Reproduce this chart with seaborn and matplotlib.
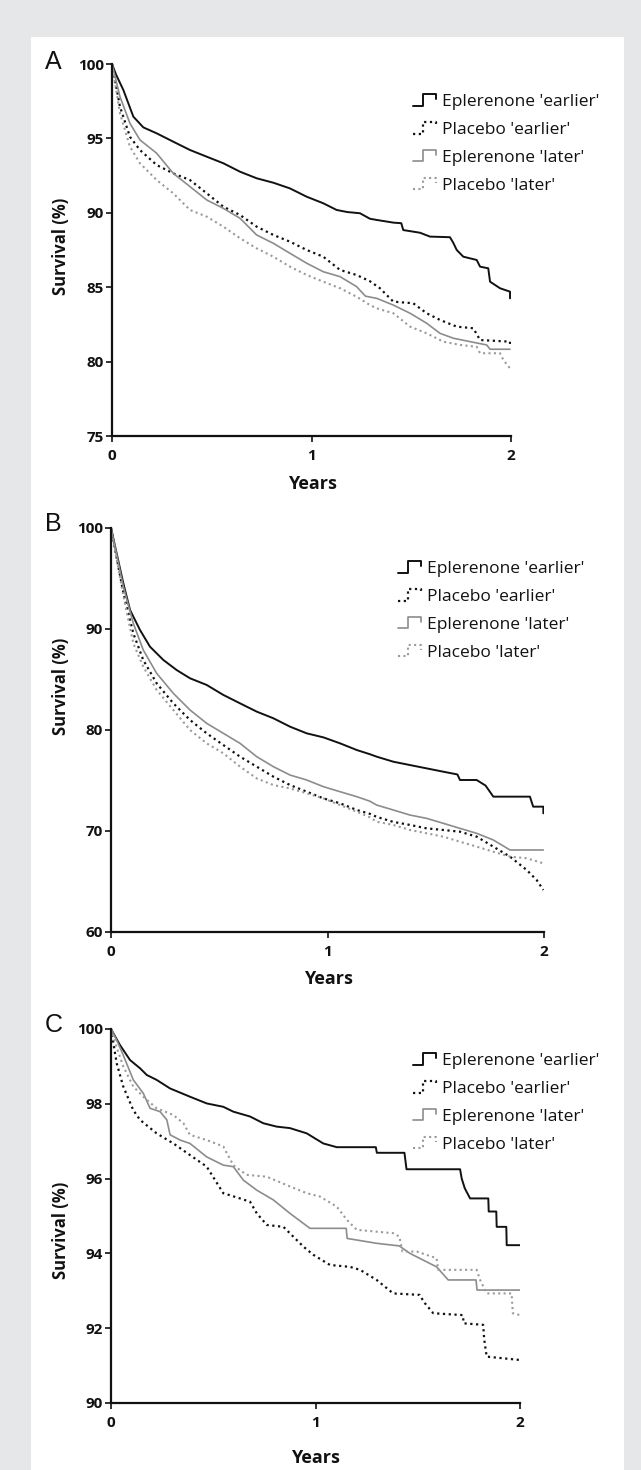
"""Kaplan-Meier style survival curves, three panels (A, B, C)."""
import matplotlib.pyplot as plt
import numpy as np
import seaborn as sns
from matplotlib.legend_handler import HandlerBase
from matplotlib.lines import Line2D
from matplotlib.patches import Rectangle

sns.set_theme(style="white")
plt.rcParams["font.family"] = ["Open Sans", "DejaVu Sans"]

W, H = 641, 1470

GROUPS = ["Eplerenone 'earlier'", "Placebo 'earlier'", "Eplerenone 'later'", "Placebo 'later'"]
X_TICKS = [0, 1, 2]

# ---- panel A ----
a_ep_early_t = [0, 0.02, 0.057, 0.107, 0.157, 0.224, 0.307, 0.391, 0.475, 0.558, 0.642, 0.725, 0.809, 0.892,
                0.976, 1.059, 1.126, 1.18, 1.243, 1.293, 1.327, 1.41, 1.45, 1.46, 1.544, 1.594, 1.694, 1.71,
                1.728, 1.761, 1.828, 1.845, 1.886, 1.895, 1.945, 1.995, 1.995]
a_ep_early_s = [100, 99.3, 98.25, 96.46, 95.74, 95.34, 94.78, 94.22, 93.77, 93.33, 92.76, 92.32, 92.02, 91.64,
                91.08, 90.64, 90.19, 90.05, 89.97, 89.6, 89.52, 89.34, 89.3, 88.84, 88.66, 88.4, 88.36, 88.0,
                87.5, 87.05, 86.83, 86.38, 86.27, 85.37, 84.93, 84.7, 84.25]
a_pl_early_t = [0, 0.04, 0.09, 0.14, 0.224, 0.307, 0.391, 0.475, 0.558, 0.642, 0.725, 0.809, 0.892, 0.976,
                1.059, 1.143, 1.226, 1.293, 1.343, 1.41, 1.51, 1.577, 1.644, 1.728, 1.811, 1.845, 1.995, 1.995]
a_pl_early_s = [100, 97.13, 95.11, 94.22, 93.21, 92.65, 92.2, 91.31, 90.41, 89.85, 89.07, 88.51, 88.06, 87.5,
                87.05, 86.16, 85.82, 85.4, 84.93, 84.03, 83.92, 83.25, 82.8, 82.35, 82.24, 81.45, 81.34, 81.1]
a_ep_later_t = [0, 0.04, 0.09, 0.14, 0.224, 0.307, 0.391, 0.475, 0.558, 0.642, 0.725, 0.809, 0.892, 0.976,
                1.059, 1.143, 1.226, 1.27, 1.327, 1.41, 1.494, 1.577, 1.644, 1.711, 1.795, 1.878, 1.895, 1.995]
a_ep_later_s = [100, 97.8, 96.01, 94.9, 94.0, 92.65, 91.76, 90.86, 90.3, 89.63, 88.51, 87.95, 87.28, 86.61,
                86.04, 85.71, 85.04, 84.4, 84.25, 83.8, 83.25, 82.58, 81.9, 81.57, 81.34, 81.12, 80.83, 80.83]
a_pl_later_t = [0, 0.04, 0.09, 0.14, 0.224, 0.307, 0.391, 0.475, 0.558, 0.642, 0.725, 0.809, 0.892, 0.976,
                1.059, 1.143, 1.226, 1.293, 1.327, 1.41, 1.494, 1.577, 1.661, 1.745, 1.828, 1.845, 1.945,
                1.962, 1.995]
a_pl_later_s = [100, 96.69, 94.44, 93.33, 92.2, 91.31, 90.19, 89.74, 89.07, 88.29, 87.61, 87.05, 86.38, 85.82,
                85.37, 84.93, 84.36, 83.8, 83.58, 83.25, 82.35, 81.9, 81.34, 81.12, 81.0, 80.56, 80.56,
                80.1, 79.55]

# ---- panel B ----
b_ep_early_t = [0, 0.057, 0.088, 0.134, 0.18, 0.242, 0.303, 0.365, 0.442, 0.519, 0.596, 0.673, 0.75, 0.827,
                0.904, 0.981, 1.058, 1.135, 1.196, 1.227, 1.304, 1.381, 1.458, 1.535, 1.6, 1.612, 1.689, 1.73,
                1.766, 1.935, 1.95, 1.997, 1.997]
b_ep_early_s = [100, 94.52, 91.88, 89.9, 88.25, 86.93, 85.94, 85.12, 84.46, 83.47, 82.64, 81.82, 81.16, 80.33,
                79.67, 79.27, 78.68, 78.02, 77.6, 77.36, 76.86, 76.53, 76.2, 75.87, 75.6, 75.05, 75.05, 74.5,
                73.4, 73.4, 72.41, 72.41, 71.75]
b_ep_later_t = [0, 0.057, 0.103, 0.149, 0.211, 0.288, 0.365, 0.442, 0.519, 0.596, 0.673, 0.75, 0.827, 0.904,
                0.981, 1.058, 1.135, 1.196, 1.227, 1.304, 1.381, 1.458, 1.535, 1.612, 1.689, 1.766, 1.843, 1.997]
b_ep_later_s = [100, 94.2, 90.56, 87.92, 85.61, 83.63, 81.98, 80.66, 79.67, 78.68, 77.36, 76.37, 75.54, 75.05,
                74.39, 73.89, 73.4, 72.95, 72.57, 72.08, 71.58, 71.25, 70.76, 70.26, 69.77, 69.11, 68.12, 68.12]
b_pl_early_t = [0, 0.057, 0.103, 0.149, 0.211, 0.288, 0.365, 0.442, 0.519, 0.596, 0.673, 0.75, 0.827, 0.904,
                0.981, 1.058, 1.135, 1.196, 1.227, 1.304, 1.381, 1.458, 1.535, 1.612, 1.689, 1.766, 1.843, 1.92,
                1.966, 1.997]
b_pl_early_s = [100, 93.6, 89.57, 86.93, 84.62, 82.64, 80.99, 79.67, 78.51, 77.36, 76.37, 75.38, 74.55, 73.89,
                73.23, 72.74, 72.08, 71.7, 71.4, 70.9, 70.6, 70.26, 70.1, 69.93, 69.44, 68.45, 67.46, 66.14,
                65.15, 64.16]
b_pl_later_t = [0, 0.057, 0.103, 0.149, 0.211, 0.288, 0.365, 0.442, 0.519, 0.596, 0.673, 0.75, 0.827, 0.904,
                0.981, 1.058, 1.135, 1.196, 1.227, 1.304, 1.381, 1.458, 1.535, 1.612, 1.689, 1.766, 1.843, 1.92,
                1.997]
b_pl_later_s = [100, 93.3, 88.58, 86.27, 83.96, 81.98, 80.0, 78.68, 77.69, 76.37, 75.21, 74.55, 74.22, 73.73,
                73.23, 72.57, 71.91, 71.35, 70.92, 70.6, 70.1, 69.77, 69.44, 68.94, 68.45, 67.95, 67.46, 67.3,
                66.8]

# ---- panel C ----
c_ep_early_t = [0, 0.044, 0.093, 0.142, 0.175, 0.223, 0.289, 0.386, 0.468, 0.549, 0.598, 0.68, 0.745, 0.81,
                0.875, 0.957, 1.038, 1.104, 1.295, 1.3, 1.435, 1.445, 1.707, 1.715, 1.73, 1.756, 1.845, 1.847,
                1.884, 1.886, 1.933, 1.935, 2.0]
c_ep_early_s = [100, 99.57, 99.17, 98.95, 98.77, 98.64, 98.41, 98.19, 98.01, 97.92, 97.79, 97.66, 97.48, 97.39,
                97.35, 97.21, 96.94, 96.84, 96.84, 96.69, 96.69, 96.25, 96.25, 96.0, 95.74, 95.47, 95.47, 95.12,
                95.12, 94.71, 94.71, 94.22, 94.22]
c_pl_early_t = [0, 0.028, 0.06, 0.109, 0.142, 0.223, 0.305, 0.386, 0.468, 0.549, 0.631, 0.68, 0.713, 0.762,
                0.843, 0.941, 0.99, 1.071, 1.169, 1.218, 1.299, 1.38, 1.51, 1.53, 1.576, 1.72, 1.725, 1.82,
                1.825, 1.837, 2.0]
c_pl_early_s = [100, 99.08, 98.46, 97.83, 97.57, 97.21, 96.94, 96.63, 96.32, 95.61, 95.47, 95.38, 95.07, 94.76,
                94.71, 94.18, 93.96, 93.69, 93.64, 93.56, 93.29, 92.93, 92.89, 92.7, 92.4, 92.35, 92.13, 92.09,
                91.7, 91.24, 91.15]
c_ep_later_t = [0, 0.028, 0.06, 0.109, 0.158, 0.191, 0.24, 0.273, 0.289, 0.338, 0.386, 0.468, 0.549, 0.598,
                0.647, 0.713, 0.794, 0.875, 0.973, 1.15, 1.155, 1.299, 1.41, 1.462, 1.527, 1.592, 1.649, 1.785,
                1.79, 2.0]
c_ep_later_s = [100, 99.7, 99.3, 98.64, 98.28, 97.88, 97.79, 97.57, 97.17, 97.03, 96.94, 96.58, 96.36, 96.32,
                95.96, 95.69, 95.43, 95.07, 94.67, 94.67, 94.4, 94.27, 94.2, 94.0, 93.82, 93.64, 93.29, 93.29,
                93.02, 93.02]
c_pl_later_t = [0, 0.028, 0.06, 0.109, 0.158, 0.223, 0.305, 0.354, 0.386, 0.468, 0.549, 0.598, 0.663, 0.762,
                0.875, 0.957, 1.022, 1.104, 1.153, 1.202, 1.38, 1.41, 1.425, 1.495, 1.592, 1.6, 1.788, 1.805,
                1.837, 1.959, 1.965, 2.0]
c_pl_later_s = [100, 99.5, 99.0, 98.46, 98.19, 97.88, 97.7, 97.48, 97.17, 97.03, 96.86, 96.36, 96.1, 96.05,
                95.79, 95.61, 95.52, 95.25, 94.9, 94.63, 94.54, 94.45, 94.05, 94.05, 93.87, 93.56, 93.56, 93.29,
                92.93, 92.93, 92.4, 92.35]

# line styles, in the order of GROUPS
STYLES = [
    dict(color="#111111", linestyle="-", linewidth=1.4),
    dict(color="#111111", linestyle=(0, (1, 1.6)), linewidth=1.6),
    dict(color="#8c8c8c", linestyle="-", linewidth=1.2),
    dict(color="#9a9a9a", linestyle=(0, (1, 1.6)), linewidth=1.5),
]

# layout in pixels: axes box, y-limits, y-ticks, ylabel anchor, xlabel anchor, legend top-left
PANELS = [
    dict(letter="A", box=(112, 64, 511, 436), ylim=(75, 100), yticks=[75, 80, 85, 90, 95, 100],
         ylab=(70, 246), xlab=(312, 475), leg=(413, 94), letter_y=62,
         curves=[(a_ep_early_t, a_ep_early_s), (a_pl_early_t, a_pl_early_s),
                 (a_ep_later_t, a_ep_later_s), (a_pl_later_t, a_pl_later_s)]),
    dict(letter="B", box=(111, 528, 544, 932), ylim=(60, 100), yticks=[60, 70, 80, 90, 100],
         ylab=(70, 686), xlab=(328, 970), leg=(398, 561), letter_y=524,
         curves=[(b_ep_early_t, b_ep_early_s), (b_pl_early_t, b_pl_early_s),
                 (b_ep_later_t, b_ep_later_s), (b_pl_later_t, b_pl_later_s)]),
    dict(letter="C", box=(111, 1029, 520, 1403), ylim=(90, 100), yticks=[90, 92, 94, 96, 98, 100],
         ylab=(70, 1230), xlab=(315, 1449), leg=(413, 1053), letter_y=1025,
         curves=[(c_ep_early_t, c_ep_early_s), (c_pl_early_t, c_pl_early_s),
                 (c_ep_later_t, c_ep_later_s), (c_pl_later_t, c_pl_later_s)]),
]


def fx(px):
    return px / W


def fy(py):
    return 1 - py / H


class StepHandler(HandlerBase):
    """Legend key drawn as a small survival step."""

    def create_artists(self, legend, orig_handle, xdescent, ydescent, width, height, fontsize, trans):
        xs = np.array([0.0, 0.4, 0.4, 0.95, 0.95]) * width - xdescent
        ys = np.array([0.05, 0.05, 1.0, 1.0, 0.6]) * height - ydescent
        line = Line2D(xs, ys)
        line.update_from(orig_handle)
        line.set_transform(trans)
        return [line]


fig = plt.figure(figsize=(W / 100, H / 100), dpi=100, facecolor="#e6e7e9")
fig.patches.append(Rectangle((fx(31), 0), fx(624) - fx(31), fy(37), transform=fig.transFigure,
                             facecolor="white", edgecolor="none", zorder=-5))

for p in PANELS:
    x0, y0, x1, y1 = p["box"]
    ax = fig.add_axes([fx(x0), fy(y1), fx(x1) - fx(x0), fy(y0) - fy(y1)])
    ax.set_facecolor("none")
    handles = []
    for (t, s), st in zip(p["curves"], STYLES):
        sns.lineplot(x=t, y=s, ax=ax, estimator=None, sort=False, errorbar=None, legend=False, **st)
        handles.append(Line2D([], [], **st))

    ax.set_xlim(0, 2)
    ax.set_ylim(*p["ylim"])
    ax.set_xticks(X_TICKS)
    ax.set_yticks(p["yticks"])
    ax.tick_params(axis="both", direction="out", length=4, width=1.2, color="#111111",
                   labelsize=11, labelcolor="#111111", left=True, bottom=True)
    ax.tick_params(axis="x", pad=5.5)
    ax.tick_params(axis="y", pad=2)
    for lbl in ax.get_xticklabels() + ax.get_yticklabels():
        lbl.set_fontweight("bold")
    sns.despine(ax=ax)
    for side in ("left", "bottom"):
        ax.spines[side].set_linewidth(1.6)
        ax.spines[side].set_color("#111111")

    ax.set_ylabel("Survival (%)", fontsize=12, fontweight="bold", color="#111111")
    ax.yaxis.set_label_coords(fx(p["ylab"][0]), fy(p["ylab"][1]), transform=fig.transFigure)
    ax.set_xlabel("Years", fontsize=13, fontweight="bold", color="#111111")
    ax.xaxis.set_label_coords(fx(p["xlab"][0]), fy(p["xlab"][1]), transform=fig.transFigure)

    fig.text(fx(45), fy(p["letter_y"]), p["letter"], fontsize=18, family=["Liberation Sans"],
             ha="left", va="center", color="#111111")

    ax.legend(handles, GROUPS, loc="upper left", bbox_to_anchor=(fx(p["leg"][0]), fy(p["leg"][1])),
              bbox_transform=fig.transFigure, frameon=False, borderpad=0, borderaxespad=0,
              fontsize=12.5, handlelength=1.4, handletextpad=0.25, handleheight=0.7, labelspacing=0.68,
              handler_map={Line2D: StepHandler()}, labelcolor="#111111")

fig.savefig("out.png", dpi=100, facecolor=fig.get_facecolor())
